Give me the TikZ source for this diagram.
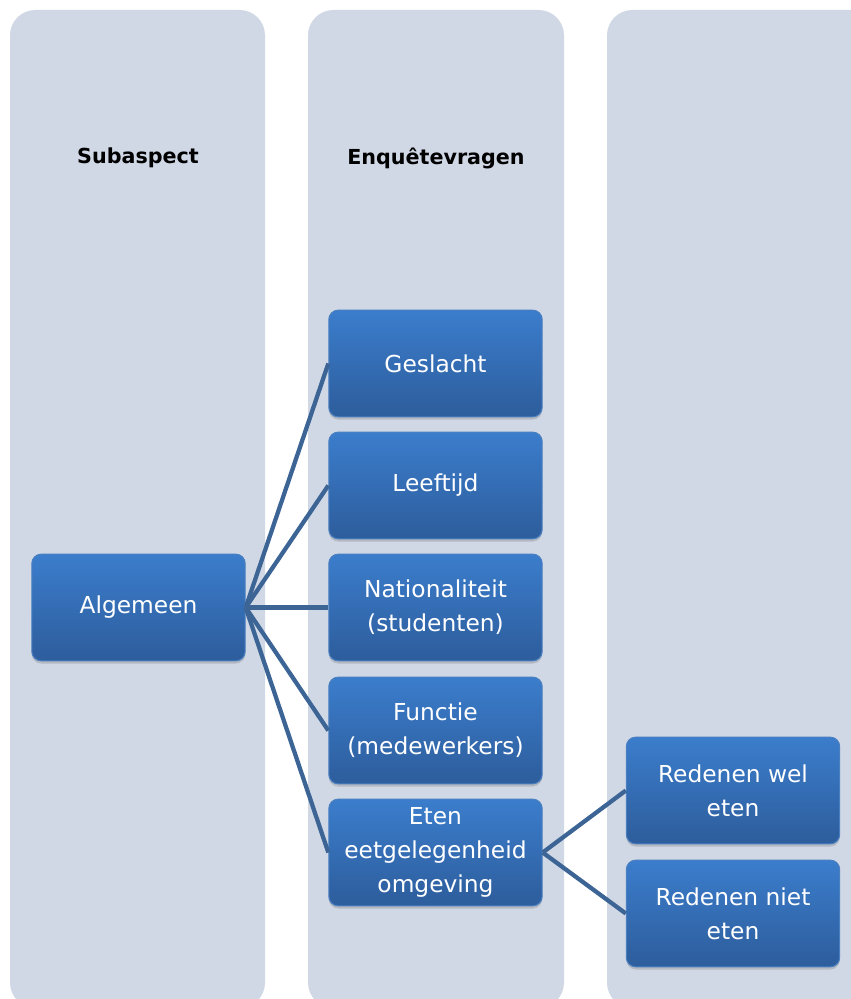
\documentclass[tikz,border=0pt]{standalone}
\usepackage{fontspec}
\setmainfont{DejaVu Sans}
\usetikzlibrary{shadows}
\definecolor{lane}{HTML}{D0D8E6}
\definecolor{boxtop}{HTML}{3B7DCC}
\definecolor{boxbot}{HTML}{2D5D9C}
\definecolor{boxedge}{HTML}{4A7FC0}
\definecolor{linkc}{HTML}{3C6596}
\begin{document}
\begin{tikzpicture}[x=0.75pt,y=-0.75pt,
  lanebox/.style={fill=lane, draw=none, rounded corners=19pt},
  header/.style={font=\fontsize{15.5pt}{18pt}\selectfont\bfseries, text=black},
  itembox/.style={rectangle, rounded corners=7pt, draw=boxedge, line width=0.8pt,
    top color=boxtop, bottom color=boxbot, text=white, align=center,
    minimum width=160pt, minimum height=80pt, inner sep=2pt,
    font=\fontsize{17.5pt}{25.5pt}\selectfont,
    drop shadow={opacity=0.35, shadow xshift=0pt, shadow yshift=-2pt}},
  link/.style={draw=linkc, line width=3.2pt}]
\useasboundingbox (0,0) rectangle (850,999);
% background lanes
\fill[lanebox] (10,10) rectangle (265,1008);
\fill[lanebox] (308,10) rectangle (564,1008);
\fill[lanebox] (607,10) rectangle (880,1008);
% lane headers
\node[header] (hsub) at (138,158) {Subaspect};
\node[header] (henq) at (436,158) {Enquêtevragen};
% boxes
\node[itembox] (alg) at (138.5,607.5) {Algemeen};
\node[itembox] (ges) at (435.5,363.5) {Geslacht};
\node[itembox] (lee) at (435.5,485.5) {Leeftijd};
\node[itembox] (nat) at (435.5,607.5) {Nationaliteit\\(studenten)};
\node[itembox] (fun) at (435.5,730.5) {Functie\\(medewerkers)};
\node[itembox] (ete) at (435.5,852.5) {Eten\\eetgelegenheid\\omgeving};
\node[itembox] (wel) at (733,790.5) {Redenen wel\\eten};
\node[itembox] (niet) at (733,913.5) {Redenen niet\\eten};
% connectors
\foreach \t in {ges,lee,nat,fun,ete}
  \draw[link] (alg.east) -- (\t.west);
\draw[link] (ete.east) -- (wel.west);
\draw[link] (ete.east) -- (niet.west);
\end{tikzpicture}
\end{document}
